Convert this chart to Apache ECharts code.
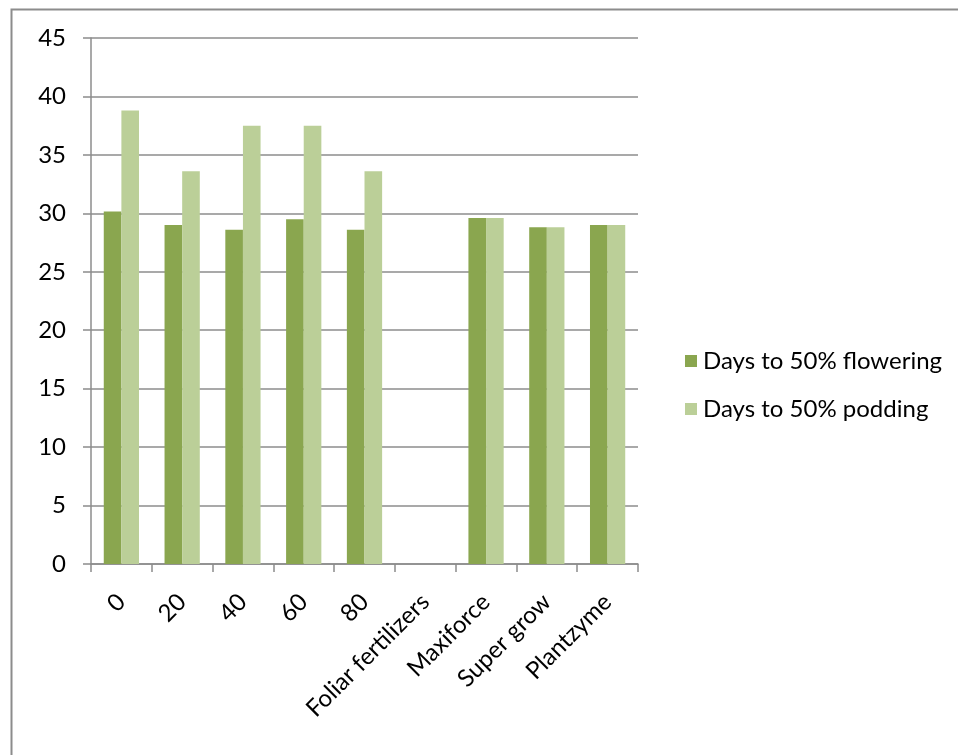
<!DOCTYPE html>
<html>
<head>
<meta charset="utf-8">
<script src="https://cdn.jsdelivr.net/npm/echarts@6/dist/echarts.min.js"></script>
<style>html,body{margin:0;padding:0;background:#fff}#c{width:958px;height:755px}</style>
</head>
<body>
<div id="c"></div>
<script>
const categories = ['0', '20', '40', '60', '80', 'Foliar fertilizers', 'Maxiforce', 'Super grow', 'Plantzyme'];
const flowering = [30.15, 29.0, 28.6, 29.5, 28.6, null, 29.6, 28.8, 29.0];
const podding = [38.8, 33.6, 37.5, 37.5, 33.6, null, 29.6, 28.8, 29.0];
const seriesNames = ['Days to 50% flowering', 'Days to 50% podding'];
const yTicks = { min: 0, max: 45, interval: 5 };

const FONT = 'Lato';
const chart = echarts.init(document.getElementById('c'), null, { renderer: 'canvas' });
chart.setOption({
  animation: false,
  backgroundColor: '#fff',
  textStyle: { fontFamily: FONT },
  graphic: [{
    type: 'rect', left: 9, top: 7, z: -1,
    shape: { width: 1000, height: 1000 },
    style: { fill: 'none', stroke: '#8c8c8c', lineWidth: 2 }
  }],
  grid: { left: 91, right: 320, top: 38, bottom: 191, containLabel: false },
  legend: {
    orient: 'vertical', left: 680, top: 344,
    itemWidth: 12, itemHeight: 12, itemGap: 24,
    icon: 'rect',
    textStyle: { fontFamily: FONT, fontSize: 24, color: '#000', padding: [0, 0, 0, 1] },
    data: seriesNames
  },
  xAxis: {
    type: 'category', data: categories,
    axisLine: { lineStyle: { color: '#8c8c8c', width: 1.5 } },
    axisTick: { show: true, length: 8, alignWithLabel: false, lineStyle: { color: '#8c8c8c', width: 1.5 } },
    axisLabel: { rotate: 45, interval: 0, margin: 34, fontFamily: FONT, fontSize: 24, color: '#000' }
  },
  yAxis: {
    type: 'value', min: yTicks.min, max: yTicks.max, interval: yTicks.interval,
    axisLine: { show: true, lineStyle: { color: '#8c8c8c', width: 1.5 } },
    axisTick: { show: true, length: 8, lineStyle: { color: '#8c8c8c', width: 1.5 } },
    splitLine: { lineStyle: { color: '#8c8c8c', width: 1.5 } },
    axisLabel: { margin: 25, fontFamily: FONT, fontSize: 24, color: '#000' }
  },
  series: [
    { name: seriesNames[0], type: 'bar', data: flowering, barGap: '0%', barCategoryGap: '42%',
      itemStyle: { color: '#8aa64f' } },
    { name: seriesNames[1], type: 'bar', data: podding, barGap: '0%', barCategoryGap: '42%',
      itemStyle: { color: '#bbcf98' } }
  ]
});
</script>
</body>
</html>
